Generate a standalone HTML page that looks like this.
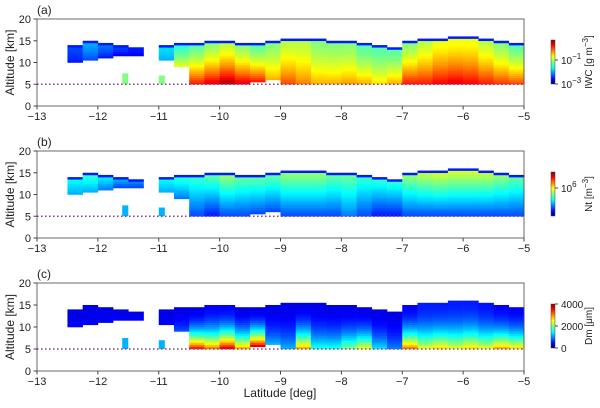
<!DOCTYPE html>
<html><head><meta charset="utf-8"><style>
body{margin:0;background:#fff;}
svg{font-family:"Liberation Sans",sans-serif;}
</style></head><body>
<svg id="fig" width="600" height="403" xmlns="http://www.w3.org/2000/svg">
<defs>
<linearGradient id="jet" x1="0" y1="1" x2="0" y2="0">
<stop offset="0" stop-color="#00007f"/><stop offset="0.11" stop-color="#0000ff"/><stop offset="0.36" stop-color="#00ffff"/><stop offset="0.5" stop-color="#7fff7f"/><stop offset="0.63" stop-color="#ffff00"/><stop offset="0.88" stop-color="#ff0000"/><stop offset="1" stop-color="#7f0000"/>
</linearGradient>
</defs>
</svg>
<script>
// latitude bin starts (0.25 deg bins)
const latBins = [-12.5,-12.25,-12,-11.75,-11.5,-11.25,-11,-10.75,-10.5,-10.25,-10,-9.75,-9.5,-9.25,-9,-8.75,-8.5,-8.25,-8,-7.75,-7.5,-7.25,-7,-6.75,-6.5,-6.25,-6,-5.75,-5.5,-5.25];
const cloudTop = [14,15,14.5,14,13.5,0,14,14.5,14.5,15,15,14.5,14.5,15,15.5,15.5,15.5,15,15,14.5,14,13.5,15,15.5,15.5,16,16,15.5,15,14.5];
const cloudBase = [10,10.5,11,11.5,11.5,0,10.5,9,5,5,5,5,5.5,6,5,5,5,5,5,5,5,5,5,5,5,5,5,5,5,5];
const smallLat = [-11.55,-10.95];
const smallTop = [7.5,7];
const iwcLow = [0.15,0.2,0.15,0.12,0.12,0,0.3,0.6,0.85,0.9,0.95,0.9,0.85,0.7,0.8,0.75,0.7,0.7,0.72,0.7,0.65,0.7,0.85,0.85,0.88,0.9,0.88,0.85,0.82,0.8];
const iwcHigh = [0.2,0.3,0.25,0.2,0.15,0,0.35,0.4,0.45,0.5,0.55,0.5,0.45,0.5,0.55,0.55,0.5,0.5,0.5,0.45,0.45,0.45,0.5,0.55,0.6,0.6,0.6,0.55,0.5,0.45];
const ntLow = [0.3,0.3,0.25,0.2,0.2,0,0.3,0.25,0.2,0.15,0.2,0.2,0.2,0.2,0.2,0.2,0.2,0.2,0.25,0.2,0.15,0.15,0.2,0.2,0.2,0.2,0.2,0.2,0.2,0.2];
const ntHigh = [0.4,0.45,0.4,0.35,0.3,0,0.4,0.45,0.45,0.5,0.55,0.5,0.5,0.5,0.55,0.55,0.55,0.5,0.5,0.45,0.45,0.45,0.55,0.6,0.62,0.62,0.62,0.6,0.55,0.5];
const dmLow = [0.12,0.12,0.12,0.12,0.12,0,0.12,0.2,0.85,0.75,0.9,0.7,0.9,0.3,0.3,0.7,0.4,0.4,0.5,0.6,0.35,0.25,0.75,0.6,0.65,0.6,0.65,0.6,0.7,0.65];
const dmHigh = [0.1,0.1,0.1,0.1,0.1,0,0.1,0.1,0.1,0.12,0.12,0.1,0.1,0.1,0.1,0.1,0.1,0.1,0.1,0.1,0.1,0.1,0.12,0.15,0.15,0.15,0.15,0.14,0.12,0.12];
const xTicks = [-13,-12,-11,-10,-9,-8,-7,-6,-5];
const yTicks = [0,5,10,15,20];

const svg=document.getElementById('fig');
const NS='http://www.w3.org/2000/svg';
function el(t,a,p){const e=document.createElementNS(NS,t);for(const k in a)e.setAttribute(k,a[k]);(p||svg).appendChild(e);return e;}
function jet(v){v=Math.max(0,Math.min(1,v));
 const r=Math.max(0,Math.min(1,1.5-Math.abs(4*v-3))),g=Math.max(0,Math.min(1,1.5-Math.abs(4*v-2))),b=Math.max(0,Math.min(1,1.5-Math.abs(4*v-1)));
 return `rgb(${Math.round(r*255)},${Math.round(g*255)},${Math.round(b*255)})`;}
const X0=37,X1=524;
function xs(v){return X0+(v+13)/8*(X1-X0);}

const panels=[
 {top:19,bot:106,tag:'(a)',low:iwcLow,high:iwcHigh,name:'iwc',k:1.5},
 {top:151,bot:238,tag:'(b)',low:ntLow,high:ntHigh,name:'nt',k:1},
 {top:283,bot:371,tag:'(c)',low:dmLow,high:dmHigh,name:'dm',k:2.2}];

panels.forEach((P,pi)=>{
 const ys=v=>P.bot-v/20*(P.bot-P.top);
 const g=el('g',{});
 
 
 const hm=el('g',{},g);
 
 
 for(let i=0;i<latBins.length;i++){
  if(!cloudTop[i])continue;
  const base=cloudBase[i],top=cloudTop[i];
  for(let a=base;a<top;a+=0.5){
   const t=(a-base)/(top-base);
   let v=P.high[i]+(P.low[i]-P.high[i])*Math.pow(1-t,P.k);
   if(top-a<=0.5)v=Math.min(v,0.15);
   const c=el('rect',{x:xs(latBins[i]),y:ys(Math.min(a+0.5,top)),width:xs(latBins[i]+0.25)-xs(latBins[i])+0.3,height:ys(a)-ys(Math.min(a+0.5,top))+0.3,fill:jet(v)},hm);
   
   
  }
 }
 smallLat.forEach((s,k)=>{
  const c=el('rect',{x:xs(s-0.05),y:ys(smallTop[k]),width:xs(0.1)-xs(0),height:ys(5)-ys(smallTop[k]),fill:jet(pi==2?0.3:(pi==1?0.3:0.5))},hm);
  
  
 });
 const d=el('line',{x1:X0,x2:X1,y1:ys(5),y2:ys(5),stroke:'#8b3a9b','stroke-width':1.5,'stroke-dasharray':'1.5 2.5'},g);
 
 
 const fr=el('rect',{x:X0,y:P.top,width:X1-X0,height:P.bot-P.top,fill:'none',stroke:'#444','stroke-width':0.8},g);
 
 
 xTicks.forEach(v=>{
  el('line',{x1:xs(v),x2:xs(v),y1:P.bot,y2:P.bot+3.5,stroke:'#444'},g);
  const t=el('text',{x:xs(v),y:P.bot+14,'font-size':11,'text-anchor':'middle',fill:'#222'},g);
  t.textContent=(v<0?'\u2212'+(-v):v);
  
  
 });
 yTicks.forEach(v=>{
  el('line',{x1:X0-3.5,x2:X0,y1:ys(v),y2:ys(v),stroke:'#444'},g);
  const t=el('text',{x:X0-6,y:ys(v)+4,'font-size':11,'text-anchor':'end',fill:'#222'},g);
  t.textContent=v;
  
  
 });
 const yl=el('text',{x:14,y:(P.top+P.bot)/2,'font-size':12,'text-anchor':'middle',transform:`rotate(-90 14 ${(P.top+P.bot)/2})`,fill:'#222'},g);
 yl.textContent='Altitude [km]';
 
 
 const tg=el('text',{x:37,y:P.top-5,'font-size':12,fill:'#222'},g);
 tg.textContent=P.tag;
 
 
 const cbT=P.top+21,cbB=P.top+65;
 const cb=el('rect',{x:551,y:cbT,width:4,height:cbB-cbT,fill:'url(#jet)',stroke:'#444','stroke-width':0.5},g);
 
 
 let labs,title;
 if(pi==0){labs=[[cbT+20,'10<tspan dy="-5" font-size="8">−1</tspan>'],[cbB,'10<tspan dy="-5" font-size="8">−3</tspan>']];title='IWC [g m<tspan dy="-4" font-size="8">−3</tspan><tspan dy="4">]</tspan>';}
 else if(pi==1){labs=[[cbT+16,'10<tspan dy="-5" font-size="8">6</tspan>']];title='Nt [m<tspan dy="-4" font-size="8">−3</tspan><tspan dy="4">]</tspan>';}
 else {labs=[[cbT,'4000'],[cbT+(cbB-cbT)/2,'2000'],[cbB,'0']];title='Dm [μm]';}
 labs.forEach(l=>{
  el('line',{x1:555,x2:558,y1:l[0],y2:l[0],stroke:'#444'},g);
  const t=el('text',{x:561,y:l[0]+4,'font-size':10,fill:'#222'},g);
  t.innerHTML=l[1];
  
  
 });
 const cy=(cbT+cbB)/2;
 const ct=el('text',{x:592,y:cy,'font-size':10,'text-anchor':'middle',transform:`rotate(-90 592 ${cy})`,fill:'#222'},g);
 ct.innerHTML=title;
 
 
});
const xl=el('text',{x:280,y:397,'font-size':12,'text-anchor':'middle',fill:'#222'});
xl.textContent='Latitude [deg]';


</script>
</body></html>
